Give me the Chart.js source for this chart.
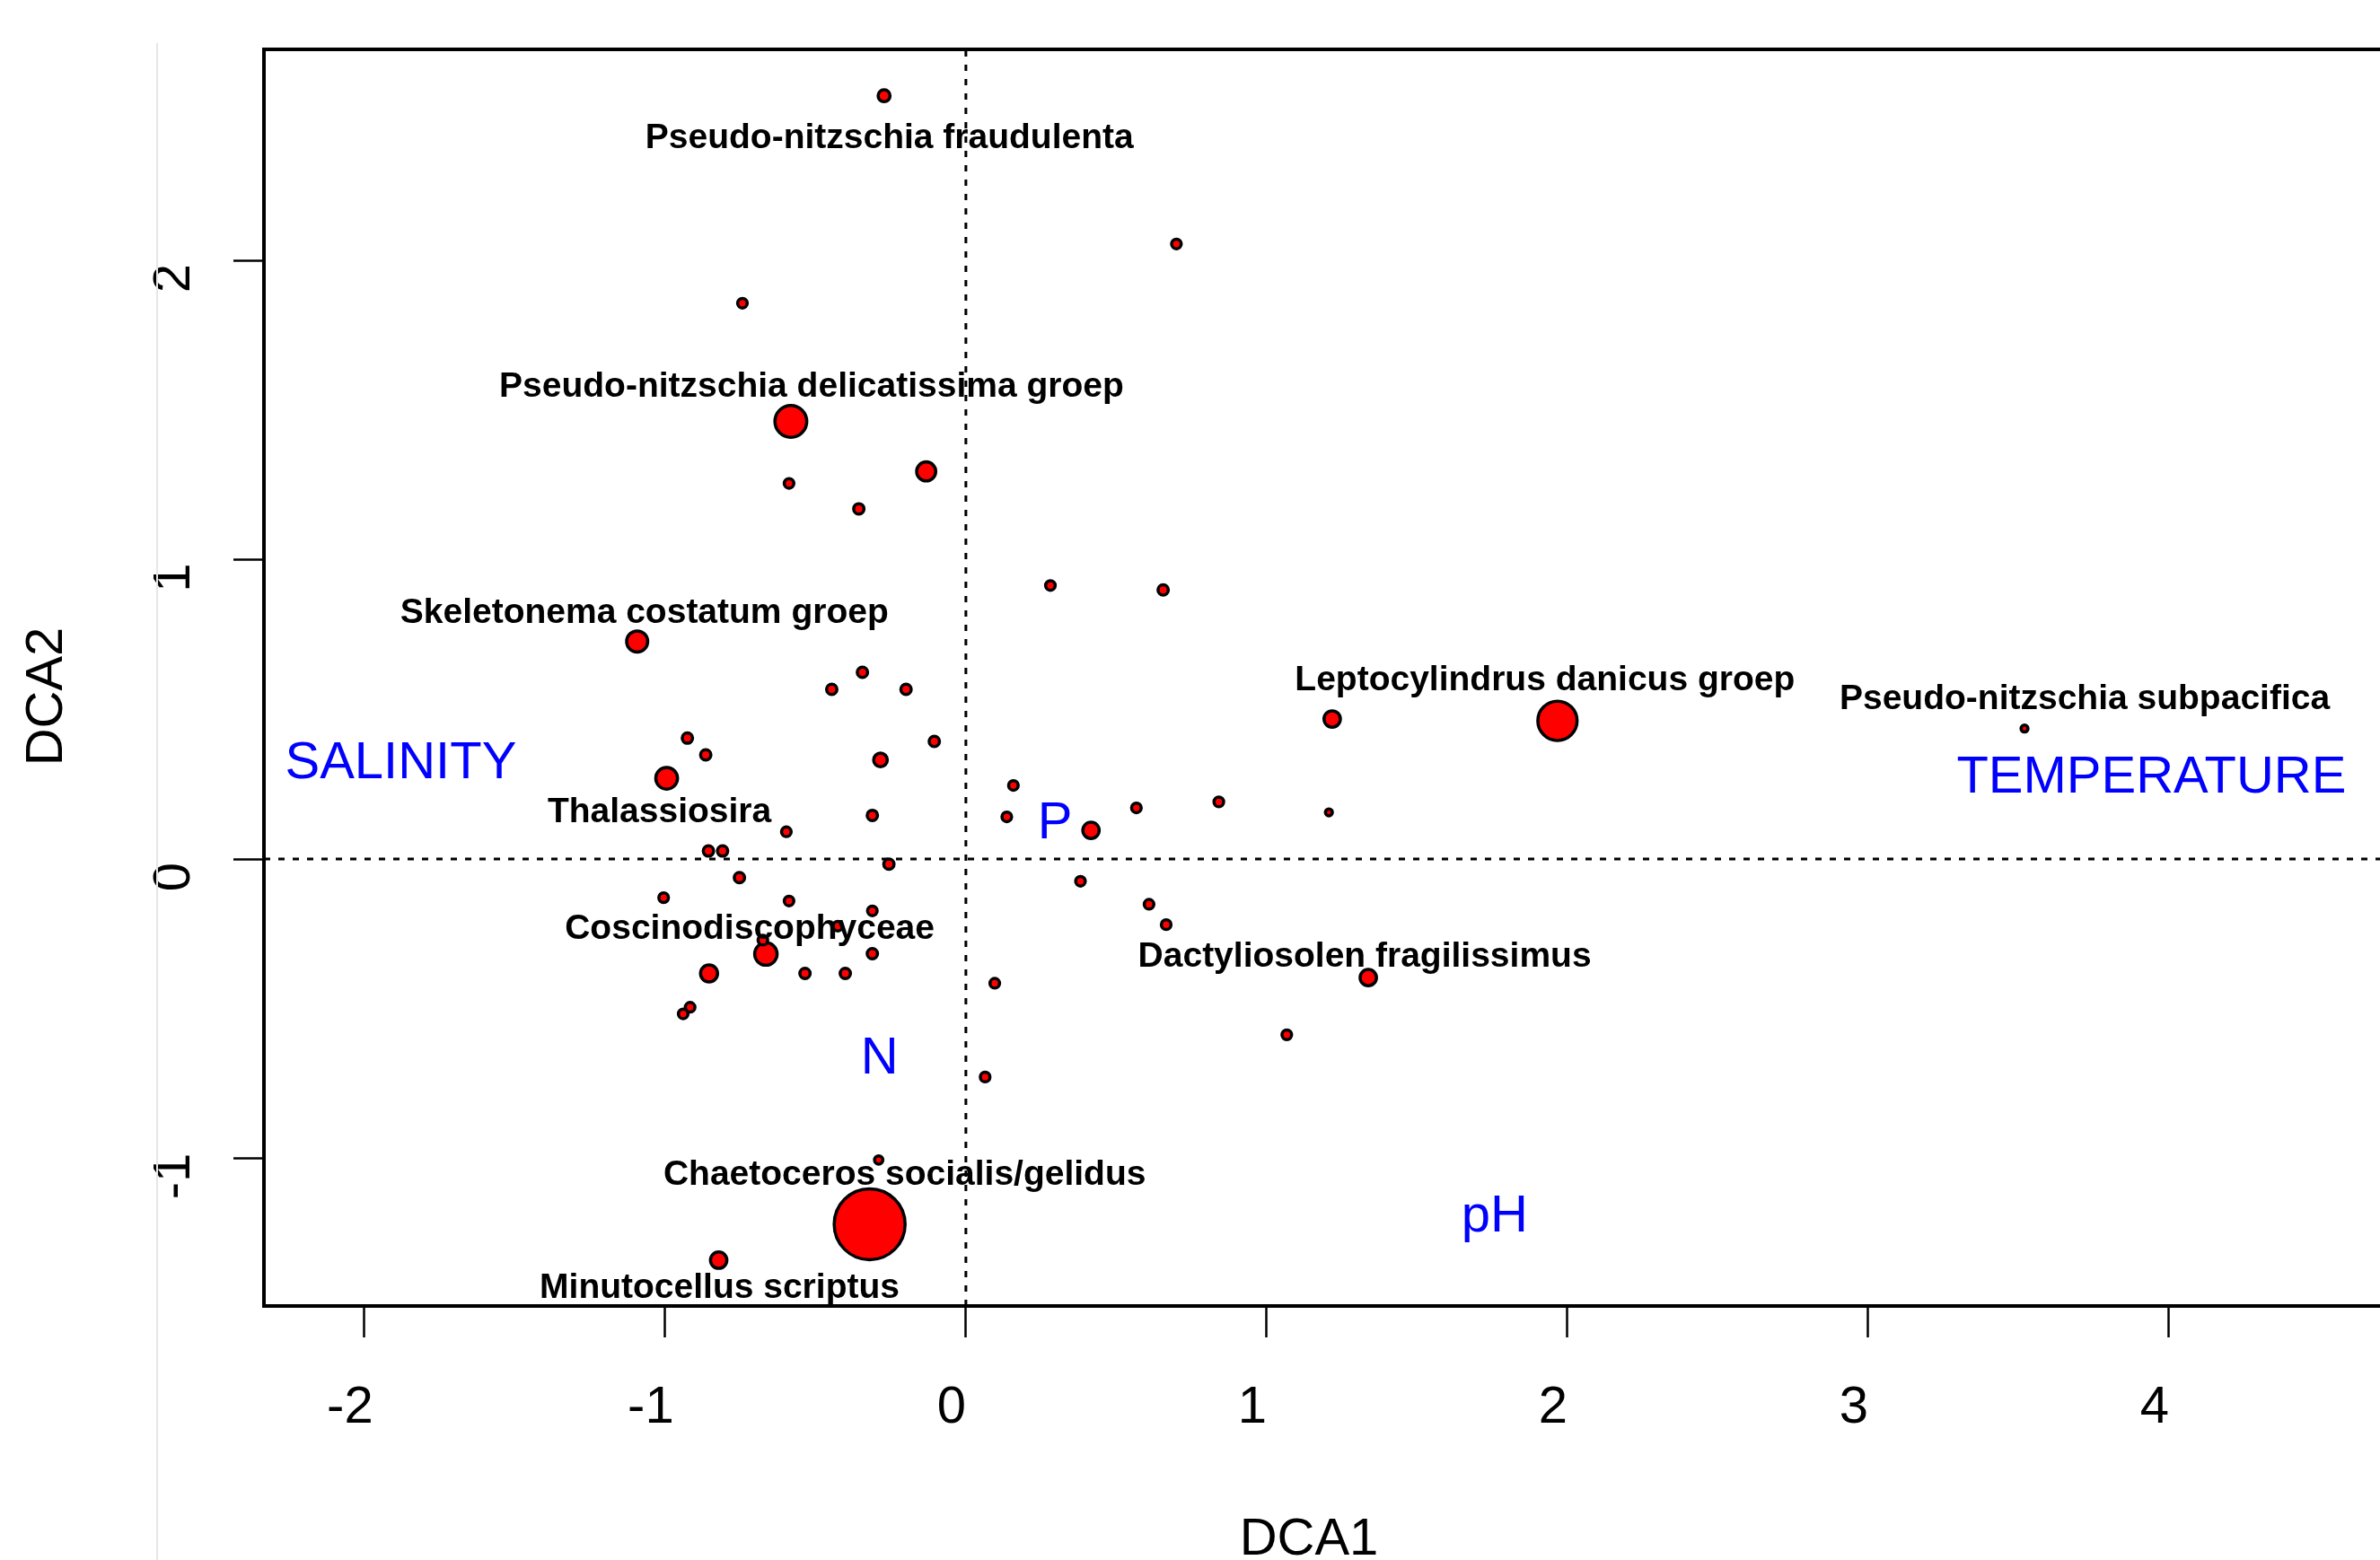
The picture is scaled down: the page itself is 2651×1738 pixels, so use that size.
<!DOCTYPE html>
<html>
<head>
<meta charset="utf-8">
<title>DCA ordination</title>
<script src="https://cdn.jsdelivr.net/npm/chart.js@4.4.1/dist/chart.umd.min.js"></script>
<style>
  html, body { margin: 0; padding: 0; background: #fff; overflow: hidden; }
  #wrap { position: relative; width: 2651px; height: 1738px; }
</style>
</head>
<body>
<div id="wrap"><canvas id="dca" width="2651" height="1738"></canvas></div>
<script>
// species scores (DCA1, DCA2)
const speciesX = [
  -0.272, 0.700, -0.743, -0.582, -0.132, -0.588, -0.356, 0.281, 0.656, -1.093,
  -0.344, -0.446, -0.199, 1.218, 1.967, 3.520, -0.926, -0.865, -0.284, -0.105,
  -0.995, 0.158, 0.841, 0.567, 1.207, 0.136, -0.311, 0.416, -0.597, -0.856,
  -0.809, -0.256, -0.753, 0.381, -1.005, -0.588, 0.609, -0.311, -0.426, 0.666,
  -0.665, -0.311, -0.854, -0.535, -0.401, 0.096, 1.338, -0.917, -0.940, 1.067,
  0.064, -0.290, -0.320, -0.822, -0.675
]
const speciesY = [
  2.550, 2.055, 1.857, 1.462, 1.295, 1.255, 1.170, 0.914, 0.899, 0.727,
  0.624, 0.567, 0.567, 0.468, 0.462, 0.436, 0.404, 0.348, 0.331, 0.393,
  0.270, 0.246, 0.191, 0.171, 0.156, 0.141, 0.146, 0.096, 0.091, 0.027,
  0.027, -0.017, -0.062, -0.074, -0.129, -0.140, -0.151, -0.173, -0.224, -0.219,
  -0.317, -0.316, -0.382, -0.382, -0.382, -0.415, -0.396, -0.495, -0.517, -0.587,
  -0.728, -1.005, -1.220, -1.340, -0.271
]
// relative symbol size (abundance)
const speciesSize = [
  1.12, 0.95, 0.95, 2.6, 1.65, 0.95, 1.0, 0.95, 1.0, 1.8,
  1.0, 1.0, 1.0, 1.45, 3.15, 0.75, 1.0, 1.0, 1.25, 1.0,
  1.85, 0.95, 0.95, 0.95, 0.75, 0.95, 1.0, 1.45, 0.95, 1.0,
  1.0, 1.0, 1.0, 0.95, 0.95, 0.95, 0.95, 0.95, 0.95, 0.95,
  1.9, 1.0, 1.5, 1.0, 1.0, 0.95, 1.45, 0.95, 0.95, 0.95,
  0.95, 0.85, 5.5, 1.45, 0.95
]
const speciesNames = [
  'Pseudo-nitzschia fraudulenta', '', '', 'Pseudo-nitzschia delicatissima groep', '', '', '', '', '', 'Skeletonema costatum groep',
  '', '', '', '', 'Leptocylindrus danicus groep', 'Pseudo-nitzschia subpacifica', '', '', '', '',
  'Thalassiosira', '', '', '', '', '', '', '', '', '',
  '', '', '', '', '', '', '', '', '', '',
  'Coscinodiscophyceae', '', '', '', '', '', 'Dactyliosolen fragilissimus', '', '', '',
  '', '', 'Chaetoceros socialis/gelidus', 'Minutocellus scriptus', ''
]

// environmental variables
const envNames = ['SALINITY', 'TEMPERATURE', 'P', 'N', 'pH']
const envX = [-1.879, 3.942, 0.296, -0.287, 1.758]
const envY = [0.330, 0.282, 0.129, -0.655, -1.183]

const xTicks = [-2, -1, 0, 1, 2, 3, 4]
const yTicks = [-1, 0, 1, 2]

// layout / style
const X_MIN = -2.334
const X_MAX = 4.702
const Y_MIN = -1.493
const Y_MAX = 2.705
const BASE_R = 7.5
const FONT = "'Liberation Sans', Arial, Helvetica, sans-serif"
// label placement relative to its symbol, px
const labelShift = {
  'Pseudo-nitzschia fraudulenta': [6, 48],
  'Pseudo-nitzschia delicatissima groep': [23, -38],
  'Skeletonema costatum groep': [8, -31],
  'Leptocylindrus danicus groep': [-14, -45],
  'Pseudo-nitzschia subpacifica': [67, -32],
  'Thalassiosira': [-8, 38],
  'Coscinodiscophyceae': [-18, -28],
  'Dactyliosolen fragilissimus': [-4, -23],
  'Chaetoceros socialis/gelidus': [39, -55],
  'Minutocellus scriptus': [1, 31]
}

const labelPlugin = {
  id: 'labels',
  afterDatasetDraw(chart, args) {
    if (args.index !== 0) return
    const ctx = chart.ctx
    const meta = chart.getDatasetMeta(0)
    ctx.save()
    ctx.textAlign = 'center'
    ctx.textBaseline = 'middle'
    ctx.fillStyle = '#000'
    ctx.font = 'bold 39px ' + FONT
    speciesNames.forEach((name, i) => {
      if (!name) return
      const pt = meta.data[i]
      const shift = labelShift[name] || [0, 0]
      ctx.fillText(name, pt.x + shift[0], pt.y + shift[1])
    })

    const xs = chart.scales.x
    const ys = chart.scales.y
    ctx.fillStyle = '#0000ff'
    ctx.font = '58px ' + FONT
    envNames.forEach((name, i) => {
      ctx.fillText(name, xs.getPixelForValue(envX[i]), ys.getPixelForValue(envY[i]) + 4)
    })
    ctx.restore()
  },
  afterDraw(chart) {
    const {ctx, chartArea} = chart
    ctx.save()
    // faint page edge
    ctx.strokeStyle = '#e6e6e6'
    ctx.lineWidth = 2
    ctx.beginPath()
    ctx.moveTo(175, 48)
    ctx.lineTo(175, chart.height)
    ctx.stroke()

    // box (right side runs off the page)
    ctx.strokeStyle = '#000'
    ctx.lineWidth = 4
    ctx.lineCap = 'square'
    ctx.beginPath()
    ctx.moveTo(chart.width + 5, chartArea.top)
    ctx.lineTo(chartArea.left, chartArea.top)
    ctx.lineTo(chartArea.left, chartArea.bottom)
    ctx.lineTo(chart.width + 5, chartArea.bottom)
    ctx.stroke()

    // axis titles
    ctx.fillStyle = '#000'
    ctx.font = '58px ' + FONT
    ctx.textAlign = 'center'
    ctx.textBaseline = 'middle'
    ctx.fillText('DCA1', 1458, 1716)
    ctx.translate(53, 776)
    ctx.rotate(-Math.PI / 2)
    ctx.fillText('DCA2', 0, 0)
    ctx.restore()
  }
}

const points = speciesX.map((x, i) => ({x: x, y: speciesY[i]}))
const zeroLine = {
  showLine: true,
  pointRadius: 0,
  borderColor: '#000',
  borderWidth: 3,
  borderDash: [7, 9],
  order: 1
}

new Chart(document.getElementById('dca'), {
  type: 'scatter',
  data: {
    datasets: [
      {
        label: 'species',
        data: points,
        order: 2,
        backgroundColor: '#ff0000',
        borderColor: '#000',
        borderWidth: 3.5,
        pointRadius: (c) => BASE_R * speciesSize[c.dataIndex] - 1.75,
        pointHoverRadius: (c) => BASE_R * speciesSize[c.dataIndex] - 1.75
      },
      Object.assign({label: 'DCA1 = 0', data: [{x: 0, y: Y_MIN}, {x: 0, y: Y_MAX}]}, zeroLine),
      Object.assign({label: 'DCA2 = 0', data: [{x: X_MIN, y: 0}, {x: X_MAX, y: 0}]}, zeroLine)
    ]
  },
  options: {
    responsive: false,
    devicePixelRatio: 1,
    animation: false,
    events: [],
    layout: {autoPadding: false, padding: {top: 55, right: 0, bottom: 0, left: 0}},
    plugins: {
      legend: {display: false},
      tooltip: {enabled: false}
    },
    scales: {
      x: {
        type: 'linear',
        min: X_MIN,
        max: X_MAX,
        afterBuildTicks: (axis) => { axis.ticks = xTicks.map(v => ({value: v})) },
        afterFit: (axis) => {
          axis.height = 283
          axis.paddingLeft = 0
          axis.paddingRight = 0
        },
        border: {display: false},
        grid: {drawOnChartArea: false, drawTicks: true, tickLength: 35, tickWidth: 2.5, tickColor: '#000'},
        ticks: {
          color: '#000',
          font: {family: FONT, size: 58, lineHeight: 1.2},
          padding: 44,
          labelOffset: -16,
          minRotation: 0,
          maxRotation: 0,
          callback: (v) => String(v)
        },
        title: {display: false}
      },
      y: {
        type: 'linear',
        min: Y_MIN,
        max: Y_MAX,
        afterBuildTicks: (axis) => { axis.ticks = yTicks.map(v => ({value: v})) },
        afterFit: (axis) => {
          axis.width = 294
          axis.paddingTop = 0
          axis.paddingBottom = 0
        },
        border: {display: false},
        grid: {drawOnChartArea: false, drawTicks: true, tickLength: 34, tickWidth: 2.5, tickColor: '#000'},
        ticks: {
          color: '#000',
          font: {family: FONT, size: 58, lineHeight: 1.2},
          padding: 39,
          crossAlign: 'center',
          labelOffset: 20,
          minRotation: 90,
          maxRotation: 90,
          callback: (v) => String(v)
        },
        title: {display: false}
      }
    }
  },
  plugins: [labelPlugin]
})
</script>
</body>
</html>
